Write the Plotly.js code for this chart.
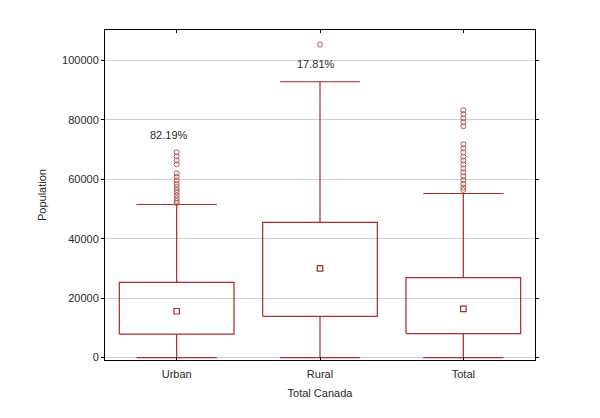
<!DOCTYPE html>
<html>
<head>
<meta charset="utf-8">
<script src="https://cdn.plot.ly/plotly-3.0.1.min.js"></script>
<style>html,body{margin:0;padding:0;background:#fff;}#chart{width:600px;height:418px;}</style>
</head>
<body>
<div id="chart"></div>
<script>
// ---- data ----
const categories = ["Urban", "Rural", "Total"];
const q1 = [7900, 13900, 8100];
const medians = [15600, 30000, 16400];
const q3 = [25300, 45500, 26900];
const lowerWhisker = [0, 0, 0];
const upperWhisker = [51500, 92800, 55200];
const outliersUrban = [69100, 67700, 66300, 65000, 62000, 60800, 59600, 58400, 57400, 56400, 55500, 54500, 53600, 52700, 52000];
const outliersRural = [105300];
const outliersTotal = [83200, 81900, 80500, 79200, 77800, 71800, 70400, 69000, 67600, 66300, 65000, 63600, 62300, 61000, 59700, 58400, 57200, 56400];
const shareLabels = ["82.19%", "17.81%"];
const shareLabelY = [74900, 98800];

// ---- style ----
const boxColor = "#a82a2a";
const outlierColor = "#b25a5a";
const boxHalf = 0.4, capHalf = 0.28;

const outliers = [outliersUrban, outliersRural, outliersTotal];
const traces = [];
categories.forEach((c, i) => {
  traces.push({
    type: "scatter", mode: "lines", hoverinfo: "skip", showlegend: false,
    x: [i - boxHalf, i + boxHalf, i + boxHalf, i - boxHalf, i - boxHalf],
    y: [q1[i], q1[i], q3[i], q3[i], q1[i]],
    line: {color: boxColor, width: 1.2}
  });
  traces.push({
    type: "scatter", mode: "lines", hoverinfo: "skip", showlegend: false,
    x: [i, i, null, i, i, null, i - capHalf, i + capHalf, null, i - capHalf, i + capHalf],
    y: [q3[i], upperWhisker[i], null, q1[i], lowerWhisker[i], null, upperWhisker[i], upperWhisker[i], null, lowerWhisker[i], lowerWhisker[i]],
    line: {color: boxColor, width: 1.2}
  });
  traces.push({
    type: "scatter", mode: "markers", showlegend: false,
    x: outliers[i].map(() => i), y: outliers[i],
    marker: {symbol: "circle-open", size: 5, color: outlierColor, line: {width: 1}}
  });
});
traces.push({
  type: "scatter", mode: "markers", showlegend: false,
  x: categories.map((c, i) => i), y: medians,
  marker: {symbol: "square-open", size: 5.5, color: boxColor, line: {width: 1.2}}
});

const layout = {
  width: 600, height: 418,
  margin: {l: 105, r: 65, t: 30, b: 58},
  paper_bgcolor: "#fff", plot_bgcolor: "#fff",
  font: {family: "Liberation Sans, Arial, sans-serif", size: 11, color: "#2a2a2a"},
  showlegend: false,
  xaxis: {
    range: [-0.5, 2.5], tickvals: [0, 1, 2], ticktext: categories,
    showgrid: false, zeroline: false, showline: true, linecolor: "#000", linewidth: 1,
    mirror: "ticks", ticks: "inside", ticklen: 3, tickcolor: "#000",
    ticklabelstandoff: 4,
    title: {text: "Total Canada", font: {size: 11, color: "#2a2a2a"}, standoff: 10}
  },
  yaxis: {
    range: [-800, 110200], tickvals: [0, 20000, 40000, 60000, 80000, 100000],
    tickformat: "d",
    showgrid: true, gridcolor: "#cfcfcf", gridwidth: 1, zeroline: false,
    showline: true, linecolor: "#000", linewidth: 1,
    mirror: "ticks", ticks: "outside", ticklen: 3, tickcolor: "#000",
    title: {text: "Population", font: {size: 11, color: "#2a2a2a"}, standoff: 13}
  },
  annotations: shareLabels.map((t, i) => ({
    x: i, y: shareLabelY[i], xref: "x", yref: "y", text: t, showarrow: false,
    xshift: i === 0 ? -8 : -4, font: {size: 11, color: "#2a2a2a"}
  }))
};
Plotly.newPlot("chart", traces, layout, {staticPlot: true, displayModeBar: false});
</script>
</body>
</html>
